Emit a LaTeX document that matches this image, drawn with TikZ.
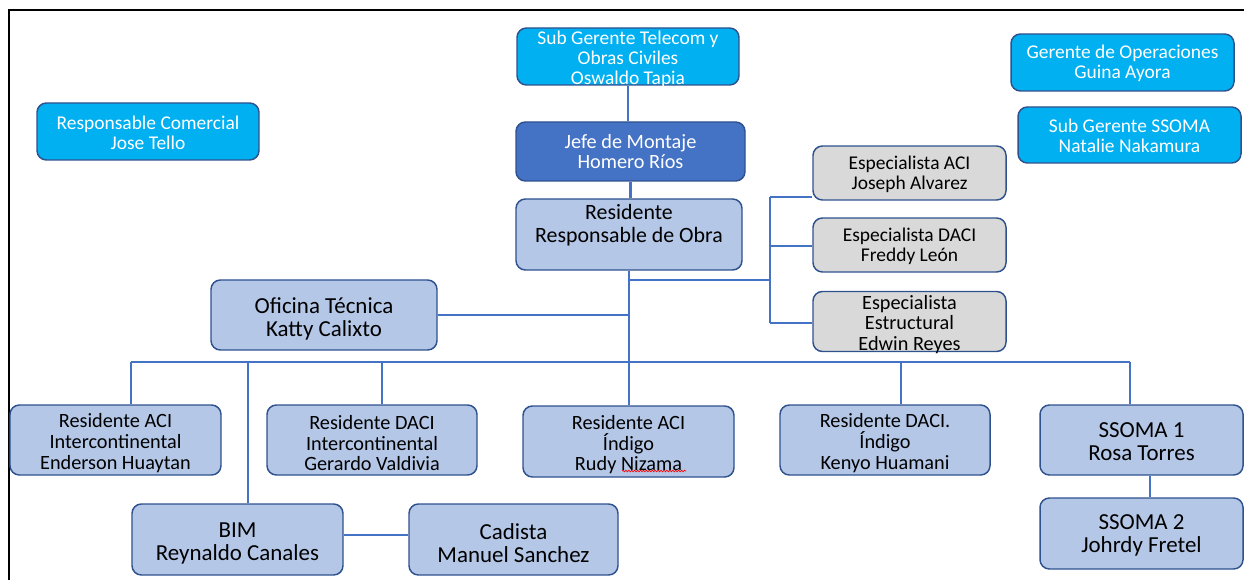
\documentclass[tikz,border=0pt]{standalone}
\usepackage{fontspec}
\setmainfont{Carlito}
\usetikzlibrary{decorations.pathmorphing}
\definecolor{cyanbox}{HTML}{00B0F0}
\definecolor{darkbox}{HTML}{4472C4}
\definecolor{lightbox}{HTML}{B4C7E7}
\definecolor{graybox}{HTML}{D9D9D9}
\definecolor{boxedge}{HTML}{2F528F}
\definecolor{linkblue}{HTML}{4472C4}
\newcommand\pxu{*0.75pt}
\newcommand\lowa{\rule{0pt}{0.8em}}
\newcommand\lowb{\rule{0pt}{1em}}
\newcommand\lowc{\rule{0pt}{1.07em}}
\tikzset{
  box/.style={draw=boxedge, line width=1.1pt, rounded corners=7pt, align=center, inner xsep=0pt, inner ysep=-8pt},
  cyanb/.style={box, fill=cyanbox, text=white},
  darkb/.style={box, fill=darkbox, text=white},
  lightb/.style={box, fill=lightbox, text=black},
  grayb/.style={box, fill=graybox, text=black},
  fA/.style={font=\fontsize{14.6}{14.8}\selectfont},
  fB/.style={font=\fontsize{15.2}{15.5}\selectfont},
  fC/.style={font=\fontsize{16.4}{17.2}\selectfont},
  fD/.style={font=\fontsize{17.2}{17.3}\selectfont},
  link/.style={draw=linkblue, line width=1.9pt},
  frame/.style={draw=black, line width=1.6pt}
}
\begin{document}
\begin{tikzpicture}[x=0.75pt,y=-0.75pt]
\useasboundingbox (0,0) rectangle (1244,580);
% frame
\coordinate (fbl) at (9,580);
\coordinate (ftl) at (9,10);
\coordinate (ftr) at (1244,10);
\draw[frame] (fbl) -- (ftl) -- (ftr);

% nodes
\node[cyanb, fA, minimum width=222\pxu, minimum height=57\pxu] (subg) at (628,56.5) {\lowb Sub Gerente Telecom y\\Obras Civiles\\Oswaldo Tapia};
\node[darkb, fB, minimum width=229\pxu, minimum height=59\pxu] (jefe) at (630.5,151.5) {Jefe de Montaje\\Homero Ríos};
\node[lightb, fC, minimum width=226\pxu, minimum height=71\pxu] (resp) at (629,234.5) {\lowc Residente\\Responsable de Obra\\\strut};
\node[cyanb, fA, minimum width=222\pxu, minimum height=57\pxu] (comer) at (148,131.5) {\lowa Responsable Comercial\\Jose Tello};
\node[cyanb, fA, minimum width=223\pxu, minimum height=57\pxu] (gerops) at (1122.5,62.5) {\lowa Gerente de Operaciones\\Guina Ayora};
\node[cyanb, fA, minimum width=223\pxu, minimum height=56\pxu] (ssomag) at (1129.5,135) {\lowa Sub Gerente SSOMA\\Natalie Nakamura};
\node[grayb, fA, minimum width=193\pxu, minimum height=54\pxu] (espaci) at (909.5,173) {\lowa Especialista ACI\\Joseph Alvarez};
\node[grayb, fA, minimum width=193\pxu, minimum height=54\pxu] (espdaci) at (909.5,245) {\lowa Especialista DACI\\Freddy León};
\node[grayb, fB, minimum width=193\pxu, minimum height=60\pxu] (espest) at (909.5,321.5) {\lowb Especialista\\Estructural\\Edwin Reyes};
\node[lightb, fD, minimum width=226\pxu, minimum height=70\pxu] (ofic) at (324,315) {\lowb Oficina Técnica\\Katty Calixto};
\node[lightb, fB, minimum width=211\pxu, minimum height=70\pxu] (racint) at (115.5,440) {\lowb Residente ACI\\Intercontinental\\Enderson Huaytan};
\node[lightb, fB, minimum width=210\pxu, minimum height=70\pxu] (rdacint) at (372,440) {\lowb Residente DACI\\Intercontinental\\Gerardo Valdivia};
\node[lightb, fB, minimum width=211\pxu, minimum height=71\pxu] (racind) at (628.5,441.5) {\lowb Residente ACI\\Índigo\\Rudy Nizama};
\node[lightb, fB, minimum width=210\pxu, minimum height=70\pxu] (rdacind) at (885,440) {\lowb Residente DACI.\\Índigo\\Kenyo Huamani};
\node[lightb, fD, minimum width=203\pxu, minimum height=70\pxu] (ssoma1) at (1141.5,440) {\lowa SSOMA 1\\Rosa Torres};
\node[lightb, fD, minimum width=203\pxu, minimum height=71\pxu] (ssoma2) at (1141.5,533.5) {\lowa SSOMA 2\\Johrdy Fretel};
\node[lightb, fD, minimum width=211\pxu, minimum height=71\pxu] (bim) at (237.5,539.5) {\lowb BIM\\Reynaldo Canales};
\node[lightb, fD, minimum width=209\pxu, minimum height=71\pxu] (cad) at (513.5,539.5) {\lowb Cadista\\Manuel Sanchez};

% spell-check squiggle under Nizama
\coordinate (sqa) at (622,471);
\coordinate (sqb) at (686,471);
\draw[red, line width=0.5pt, decorate, decoration={snake, amplitude=0.6pt, segment length=2.2pt}] (sqa) -- (sqb);

% connectors
\draw[link] (subg.south) -- (subg.south |- jefe.north);
\draw[link] (jefe.south) -- (jefe.south |- resp.north);
\draw[link] (resp.south) -- (resp.south |- racind.north);

% specialists branch
\coordinate (sj) at (629,280);
\coordinate (sv) at (770,280);
\coordinate (s1) at (770,197);
\coordinate (s2) at (770,246);
\coordinate (s3) at (770,323);
\draw[link] (sj) -- (sv);
\draw[link] (s1) -- (s3);
\draw[link] (s1) -- (s1 -| espaci.west);
\draw[link] (s2) -- (s2 -| espdaci.west);
\draw[link] (s3) -- (s3 -| espest.west);

% oficina tecnica
\draw[link] (ofic.east) -- (ofic.east -| resp.south);

% bus
\coordinate (b1) at (131,362);
\coordinate (b2) at (248,362);
\coordinate (b3) at (382,362);
\coordinate (b5) at (901,362);
\coordinate (b6) at (1130,362);
\draw[link] (b1) -- (b6);
\draw[link] (b1) -- (b1 |- racint.north);
\draw[link] (b2) -- (b2 |- bim.north);
\draw[link] (b3) -- (b3 |- rdacint.north);
\draw[link] (b5) -- (b5 |- rdacind.north);
\draw[link] (b6) -- (b6 |- ssoma1.north);

% SSOMA chain
\coordinate (sx) at (1150,475);
\draw[link] (sx |- ssoma1.south) -- (sx |- ssoma2.north);

% BIM - Cadista
\coordinate (bc) at (343,535);
\draw[link] (bc -| bim.east) -- (bc -| cad.west);
\end{tikzpicture}
\end{document}
